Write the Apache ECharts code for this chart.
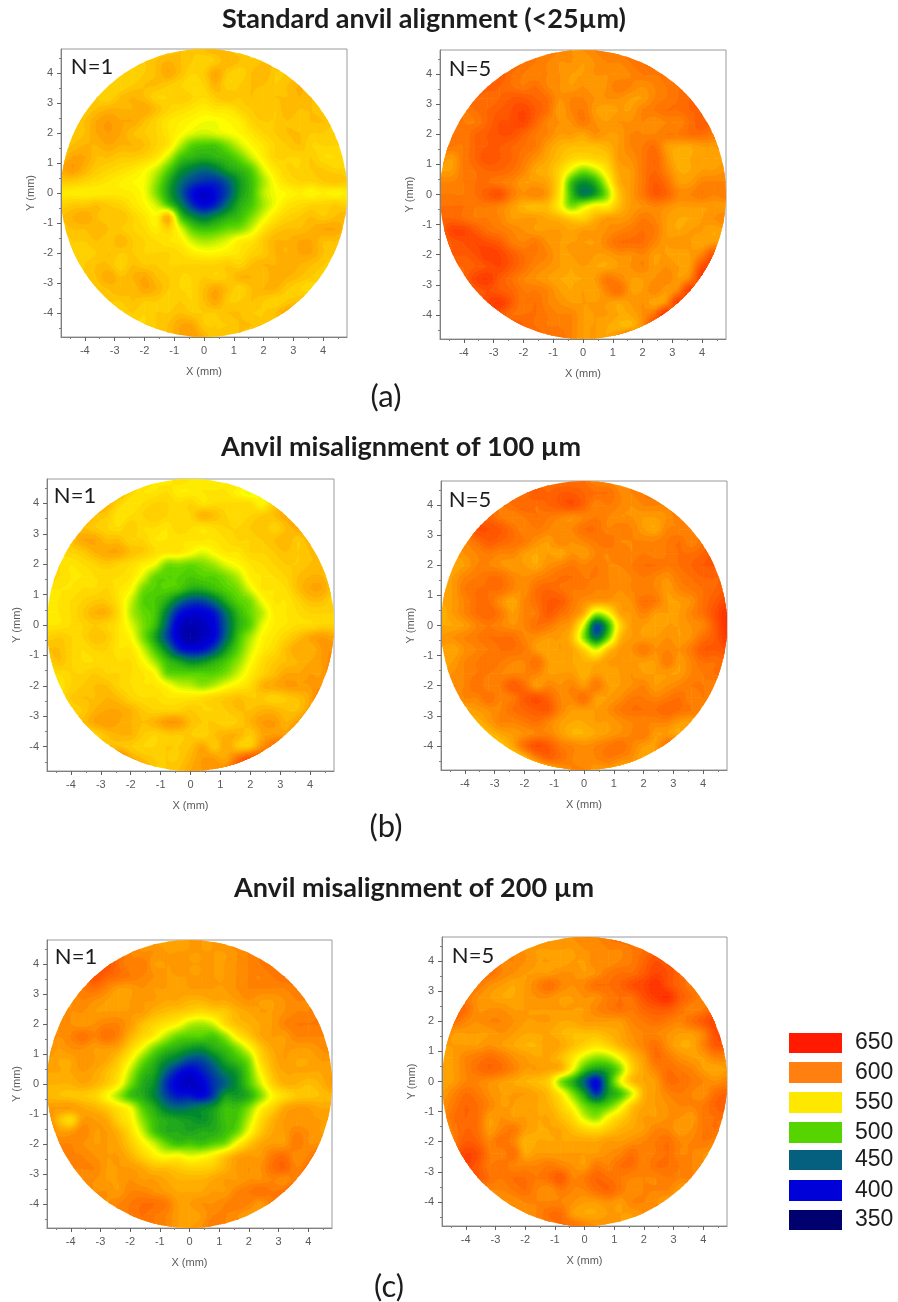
<!DOCTYPE html>
<html><head><meta charset="utf-8">
<style>html,body{margin:0;padding:0;background:#fff}#c{width:898px;height:1302px}</style>
<script src="https://cdn.jsdelivr.net/npm/echarts@6/dist/echarts.min.js"></script>
</head><body><div id="c"></div>
<script>
// Values: rows run from y=+4.8 to y=-4.8 mm in 0.4 mm steps, each row centred on x=0.
const panelA1=[
[575,570,570,575,570,575,580,575,570,570,570],
[570,575,570,575,580,575,570,565,570,580,575,570,575,575,570],
[575,570,565,570,575,585,575,565,570,585,570,565,575,580,570,570,570],
[575,570,565,570,575,575,570,565,560,565,580,565,570,575,575,570,575,580,575],
[575,570,565,575,580,575,565,565,570,565,560,570,575,570,575,570,575,575,580,575,570],
[570,570,575,580,580,580,585,575,565,560,555,550,555,555,565,570,575,570,580,575,575,570,565],
[570,575,585,590,585,585,575,565,555,550,545,540,540,545,550,565,570,570,575,570,575,575,570],
[565,570,575,585,590,585,575,570,565,555,545,535,530,535,540,545,555,565,570,575,575,570,570,565,565],
[570,575,580,580,585,580,580,575,565,555,525,500,495,495,510,530,545,555,565,570,575,565,565,565,565],
[575,585,585,575,575,570,570,565,555,530,495,485,480,485,490,505,530,550,565,565,565,570,560,560,565],
[585,590,580,570,565,560,555,545,530,500,470,455,445,455,475,485,500,535,555,565,565,570,570,565,565],
[570,570,565,560,555,550,545,540,515,480,450,430,420,420,440,470,490,520,545,560,565,565,570,575,570],
[552,552,550,550,552,552,550,540,510,475,440,405,390,405,430,470,490,525,540,545,550,545,550,545,550],
[565,570,570,575,570,565,555,545,530,495,460,420,400,415,450,480,495,520,540,555,560,565,565,570,565],
[575,580,585,575,570,575,565,555,545,580,495,465,450,465,480,490,510,535,555,565,570,575,570,575,580],
[570,575,575,580,575,570,565,560,550,565,535,500,490,495,505,510,530,555,570,575,575,580,585,585,575],
[565,570,570,575,570,580,570,565,560,555,550,530,520,525,535,550,555,570,580,580,585,585,575,575,570],
[560,565,565,570,575,570,570,565,565,565,560,550,545,545,550,555,565,570,580,580,585,585,575,570,565],
[565,570,575,575,565,575,570,570,565,565,565,565,565,570,565,575,580,580,585,580,575,570,565],
[565,570,575,585,575,580,585,575,570,565,565,570,565,570,580,580,575,585,580,575,570,565,560],
[565,570,575,580,575,585,580,570,565,565,575,585,575,565,575,580,580,570,565,560,570],
[565,570,570,575,570,570,565,570,565,575,585,570,570,575,570,565,570,575,585],
[565,565,570,565,570,570,575,570,570,570,575,575,570,570,575,585,590],
[570,565,565,570,575,585,585,570,570,570,575,575,570,570,570],
[570,570,575,585,590,580,570,575,575,570,570]];
const panelA2=[
[610,605,605,600,595,595,600,605,605,610,615],
[620,615,610,605,600,595,595,590,595,600,600,605,610,615,620],
[625,620,610,605,600,600,595,590,590,595,595,595,600,605,605,610,620],
[625,620,615,610,605,610,600,595,590,595,590,595,605,600,595,600,605,610,615],
[620,615,610,615,620,620,615,610,595,600,600,595,595,595,590,590,600,605,610,615,620],
[615,605,610,615,620,625,630,620,610,590,600,605,590,585,590,590,600,605,610,610,615,615,620],
[610,605,605,615,625,625,630,615,600,595,595,605,595,590,595,595,600,595,600,600,610,620,615],
[610,610,605,615,620,625,625,615,605,600,590,590,585,595,590,590,600,600,600,605,605,610,610,605,605],
[605,605,605,615,620,620,615,610,605,590,580,575,575,575,580,590,600,605,610,590,585,585,590,590,595],
[595,590,605,615,625,620,615,605,595,585,575,565,560,565,570,590,595,605,615,595,580,585,590,585,590],
[590,590,605,610,615,615,610,600,585,580,565,535,510,525,555,585,590,605,615,600,585,585,590,590,595],
[600,600,605,610,610,605,600,590,590,585,560,490,465,480,530,580,590,605,620,610,590,590,600,600,600],
[605,605,605,610,620,625,605,595,600,590,555,490,455,470,510,570,590,605,620,615,600,600,605,600,605],
[610,610,610,605,605,600,590,580,575,575,550,510,530,550,550,575,590,595,600,595,590,590,590,590,590],
[615,615,610,605,605,600,590,590,590,585,580,570,565,580,590,590,595,605,600,590,585,585,590,595,600],
[615,630,630,620,610,605,600,595,590,590,590,585,590,590,595,600,605,610,605,590,585,590,590,585,590],
[610,620,625,630,625,620,605,600,605,595,590,590,590,590,600,610,610,610,600,590,595,590,585,590,590],
[610,620,620,625,635,630,620,610,605,600,590,590,595,590,590,595,595,600,590,590,585,590,600,625,600],
[615,615,620,625,630,620,610,600,595,590,585,590,585,585,590,595,600,590,595,590,590,625,630],
[610,615,630,635,620,610,600,595,590,585,585,585,590,605,600,590,590,595,600,590,600,635,610],
[615,620,625,620,615,605,605,600,590,585,590,585,600,610,590,590,600,590,600,635,590],
[620,630,635,620,605,610,600,595,590,590,590,590,585,590,595,585,595,635,600],
[625,620,610,610,610,605,600,600,590,590,590,585,585,595,610,640,590],
[630,625,615,610,605,605,600,590,590,585,580,580,595,630,595],
[615,620,610,610,600,590,590,585,600,625,600]];
const panelB1=[
[575,565,555,550,560,555,550,550,555,565,575],
[575,580,565,555,555,560,550,550,555,555,555,545,535,555,575],
[585,580,565,555,560,565,565,560,565,555,560,560,560,560,545,570,585],
[590,575,570,555,560,565,570,565,560,565,580,575,565,560,565,570,575,585,590],
[585,575,570,565,560,570,560,560,555,565,560,555,560,565,565,570,575,565,575,585,590],
[575,575,585,585,575,575,565,565,555,555,555,555,555,555,560,565,565,570,575,580,570,580,585],
[560,565,570,580,585,585,575,570,560,555,555,545,535,545,555,555,565,565,570,575,570,575,580],
[565,560,555,560,565,570,565,560,550,540,510,510,505,510,520,535,545,555,560,565,570,570,575,575,570],
[565,560,555,555,560,560,560,555,535,505,500,500,495,500,500,510,525,550,555,560,565,575,580,580,570],
[555,555,555,560,560,565,555,545,510,500,500,495,480,480,490,500,510,535,555,555,560,575,585,585,570],
[550,555,560,565,570,570,555,530,500,495,480,450,430,430,450,480,500,510,540,555,555,565,575,575,565],
[555,555,560,570,580,580,560,525,505,495,455,410,395,395,410,450,485,505,525,550,555,560,565,565,565],
[555,555,560,565,570,565,555,535,510,490,440,390,380,385,400,440,480,500,535,550,555,560,560,565,565],
[565,570,565,565,575,570,555,545,510,475,430,390,375,385,400,445,490,520,545,555,565,575,585,590,585],
[575,575,565,560,565,565,555,555,530,495,460,415,400,405,430,470,500,530,550,560,575,585,580,590,595],
[565,575,565,560,560,565,560,560,545,520,490,475,460,465,480,495,515,540,560,570,575,580,585,590,600],
[560,560,565,565,570,565,565,560,555,545,505,500,500,500,500,510,530,550,565,575,585,585,590,590,605],
[555,555,565,570,575,575,565,560,555,555,545,530,525,515,525,540,550,560,580,585,590,590,590,595,610],
[560,570,575,575,580,575,565,560,560,555,555,555,560,565,570,575,570,570,565,570,575,585,610],
[560,565,570,580,585,585,580,570,565,565,565,570,565,565,570,575,575,580,580,575,575,590,600],
[565,575,585,590,585,580,575,580,590,590,575,570,570,565,570,580,590,590,580,590,610],
[560,565,575,580,580,570,565,570,570,570,565,575,580,580,570,585,590,590,610],
[570,575,575,570,565,565,570,570,575,585,570,585,570,570,595,610,620],
[590,605,585,575,570,570,570,580,590,590,585,610,625,620,600],
[600,590,570,570,575,585,590,590,600,625,620]];
const panelB2=[
[600,605,610,610,610,610,600,600,595,600,605],
[615,610,610,620,615,620,620,615,610,610,600,600,605,610,605],
[610,605,610,615,610,615,620,625,615,600,605,600,595,600,600,600,610],
[620,615,605,600,605,610,605,600,595,600,605,600,595,595,590,590,595,605,610],
[610,625,625,620,610,600,605,600,595,600,610,610,600,605,600,590,585,600,600,605,610],
[605,600,610,620,615,610,605,595,590,600,595,600,605,610,600,600,600,600,605,610,600,610,620],
[590,595,600,605,600,600,590,585,590,585,595,590,600,600,605,600,605,600,605,610,610,615,625],
[595,585,590,600,600,595,590,590,585,595,600,605,600,605,600,600,605,610,610,605,610,615,620,620,620],
[590,590,600,605,610,610,600,595,600,605,610,610,605,605,600,595,600,605,600,595,605,610,615,615,615],
[585,590,605,610,610,610,600,595,610,615,610,605,605,600,600,595,600,600,600,590,600,605,610,615,620],
[585,590,600,610,610,595,585,600,610,620,620,605,595,590,590,590,595,610,605,590,590,595,610,620,630],
[580,590,600,610,615,605,590,600,605,620,610,600,580,520,540,585,590,600,590,590,590,600,610,625,640],
[585,585,590,600,605,600,595,600,610,605,595,585,530,430,480,560,590,590,585,590,590,595,600,620,640],
[590,595,600,605,610,610,610,600,595,590,590,575,510,450,500,575,590,590,590,595,590,595,610,620,635],
[590,585,595,600,605,610,610,605,590,585,590,585,565,530,570,590,595,605,595,600,595,605,620,620,625],
[585,590,600,605,610,605,600,600,610,590,585,585,580,580,590,590,590,590,590,605,590,600,610,610,615],
[590,595,600,605,605,600,600,600,600,590,590,590,580,590,585,590,595,590,590,590,590,600,605,610,610],
[595,600,600,610,600,605,620,610,590,600,595,600,590,605,590,590,595,600,590,595,600,605,605,600,600],
[590,600,600,610,600,605,620,625,615,600,600,610,590,590,595,605,605,600,605,610,600,605,600],
[575,585,590,595,600,610,615,620,620,600,590,590,590,595,605,610,610,610,615,610,605,600,600],
[580,580,590,600,600,605,610,600,590,585,585,590,590,595,600,600,600,600,590,590,600],
[565,575,585,590,595,600,600,590,580,580,585,590,595,600,605,590,590,585,605],
[560,570,585,610,625,620,605,600,595,600,605,610,600,590,590,610,615],
[555,560,575,600,615,610,600,595,600,605,600,595,585,590,600],
[550,560,575,590,600,600,590,590,580,580,590]];
const panelC1=[
[590,595,590,585,585,590,590,590,595,600,600],
[620,610,600,595,595,590,590,590,590,590,590,595,600,605,610],
[625,625,610,600,605,590,590,590,590,590,590,590,595,600,605,610,610],
[610,625,615,610,605,600,595,590,590,590,590,590,590,595,600,600,605,610,610],
[600,605,610,600,590,590,595,590,590,585,590,590,590,590,595,600,600,600,600,605,610],
[595,595,600,595,590,585,590,590,590,585,585,580,580,585,585,590,595,590,590,595,600,600,605],
[600,595,595,590,590,590,590,590,580,575,570,565,560,565,570,580,585,590,590,595,600,600,605],
[600,600,595,590,595,600,600,590,575,565,555,545,525,520,530,560,575,580,585,590,600,605,605,605,600],
[600,595,600,610,600,610,600,580,565,550,525,505,500,500,495,515,550,570,585,590,590,600,600,600,600],
[595,590,595,595,590,590,585,565,540,510,490,480,470,465,480,490,510,540,570,585,590,590,590,595,600],
[590,585,585,595,590,585,570,545,510,485,465,450,430,430,450,475,490,510,560,580,590,585,585,590,590],
[585,585,585,590,585,575,560,525,490,475,440,410,395,410,430,455,470,500,545,575,585,585,585,585,590],
[580,580,580,585,580,570,550,510,480,465,420,395,385,395,420,440,465,495,530,565,580,580,575,580,590],
[578,575,572,570,565,545,520,490,480,460,430,410,410,400,425,470,470,480,510,545,560,570,572,575,578],
[590,590,590,585,580,570,555,540,500,480,455,445,450,460,470,490,490,510,545,565,585,590,590,585,585],
[600,575,560,590,590,585,565,550,515,490,480,475,470,465,475,490,495,525,560,580,590,590,590,590,585],
[600,590,590,600,590,590,580,560,530,495,480,480,475,480,480,490,505,540,570,585,590,600,595,590,590],
[605,600,600,595,590,590,585,570,550,530,505,490,495,490,500,510,545,570,585,590,590,605,595,595,590],
[600,600,600,595,590,590,580,565,550,540,545,535,540,550,570,585,590,590,605,610,595,600,615],
[600,600,600,600,590,590,590,585,575,575,570,565,565,570,580,590,595,595,610,615,600,610,625],
[595,595,595,590,590,595,590,590,585,580,580,580,585,590,590,595,595,600,595,605,620],
[600,595,595,590,600,600,595,590,585,585,585,590,590,600,605,610,605,610,625],
[600,595,600,605,610,610,605,590,590,595,595,600,605,600,590,605,615],
[600,600,605,610,605,600,590,585,590,600,600,595,590,600,610],
[600,605,605,600,590,590,595,605,600,600,600]];
const panelC2=[
[600,600,595,595,595,600,600,605,610,610,615],
[610,600,595,590,590,590,590,595,595,600,600,605,610,615,620],
[620,600,600,595,590,590,585,590,590,600,595,600,605,615,625,620,620],
[615,610,600,595,590,590,590,595,595,590,595,605,610,610,620,630,625,615,610],
[615,605,595,590,585,590,600,610,600,595,600,610,610,615,625,630,640,625,615,605,600],
[615,605,595,590,585,585,590,595,595,590,590,595,595,605,610,610,625,635,640,620,610,600,600],
[620,610,595,595,595,590,590,590,590,590,590,590,600,605,610,605,615,620,620,610,600,605,615],
[625,610,600,595,600,600,595,590,590,590,585,585,590,590,590,590,600,605,610,605,600,610,620,630,625],
[600,590,590,590,590,595,590,585,585,585,580,575,575,575,580,585,595,600,600,595,590,590,600,625,630],
[590,590,590,590,595,590,585,580,580,590,585,575,565,555,565,580,590,600,610,595,585,585,600,620,620],
[590,590,600,605,610,605,595,590,585,585,575,555,530,515,520,545,575,590,610,605,595,590,590,600,600],
[585,590,600,610,615,610,600,590,590,585,580,540,490,470,480,510,565,585,600,610,605,600,590,585,590],
[585,590,600,600,595,590,585,580,575,565,510,480,440,400,470,535,575,585,590,610,610,605,600,595,600],
[590,600,610,605,595,590,590,590,585,575,550,510,470,420,470,490,530,580,590,600,605,600,595,610,615],
[595,605,615,610,600,590,590,585,585,580,565,540,505,490,500,530,570,585,590,595,600,600,605,615,620],
[595,610,615,610,590,595,590,590,585,585,575,560,530,515,545,565,580,590,590,595,595,590,605,610,610],
[590,605,615,610,590,600,605,590,585,585,585,575,565,560,570,580,585,590,600,600,590,595,605,610,605],
[600,605,620,615,600,610,600,580,585,585,585,585,585,585,590,590,595,600,605,610,600,600,605,600,595],
[615,630,625,605,600,610,585,590,590,590,590,590,590,595,600,610,600,605,610,600,600,595,590],
[620,630,620,605,610,600,600,600,605,600,595,590,605,600,610,610,600,610,610,605,600,595,590],
[610,620,610,605,610,610,605,610,620,600,605,615,610,605,600,600,600,605,600,600,590],
[605,600,600,605,610,600,595,605,600,600,610,615,605,595,600,600,600,590,585],
[600,595,595,600,600,600,600,595,590,590,595,590,600,600,595,590,595],
[605,600,600,600,610,610,590,585,585,590,590,590,595,600,600],
[600,600,605,610,610,600,595,595,590,590,595]];

const legendValues=[650,600,550,500,450,400,350];
const legendColors=['#ff1a00','#ff8010','#ffe800','#55d400','#05607f','#0000d8','#00006e'];
const majorTicks=[-4,-3,-2,-1,0,1,2,3,4];
const minorTicks=[-4.5,-3.5,-2.5,-1.5,-0.5,0.5,1.5,2.5,3.5,4.5];
const panelLabels=['N=1','N=5','N=1','N=5','N=1','N=5'];
const titles=['Standard anvil alignment (<25µm)','Anvil misalignment of 100 µm','Anvil misalignment of 200 µm'];
const partLabels=['(a)','(b)','(c)'];

const GRID_STEP=0.4, EXTENT=4.8, LEVEL_STEP=5, SUB=3;
const panels=[panelA1,panelA2,panelB1,panelB2,panelC1,panelC2];
// frame: left, top, width, height (px)
const frames=[[61,49,286,288],[440,50,286,289],[47,479,287,292],[441,481,286,289],[47,940,285,288],[442,937,285,289]];
const colorStops=[[340,'#00005a'],[350,'#00006e'],[400,'#0000e0'],[445,'#006a78'],[462,'#008a30'],[500,'#52d400'],[525,'#b8ee00'],[542,'#ffff00'],[555,'#ffe600'],[570,'#ffcc00'],[585,'#ffa800'],[600,'#ff8500'],[650,'#ff1e00'],[690,'#a01000']];
function hex(c){return [1,3,5].map(i=>parseInt(c.substr(i,2),16));}
function colorAt(v){
  if(v<=colorStops[0][0])return colorStops[0][1];
  for(let i=1;i<colorStops.length;i++){
    if(v<=colorStops[i][0]){
      const a=colorStops[i-1],b=colorStops[i],t=(v-a[0])/(b[0]-a[0]),ca=hex(a[1]),cb=hex(b[1]);
      return 'rgb('+ca.map((x,k)=>Math.round(x+(cb[k]-x)*t)).join(',')+')';
    }
  }
  return colorStops[colorStops.length-1][1];
}
function fullRows(rows){
  return rows.map(r=>{const off=Math.floor((25-r.length)/2),out=[];
    for(let i=0;i<25;i++){const k=Math.min(r.length-1,Math.max(0,i-off));out.push(r[k]);}
    return out;});
}
const fullGrids=panels.map(fullRows);
function cells(f){
  const out=[];
  for(let j=0;j<24;j++)for(let i=0;i<24;i++){
    const xl=-EXTENT+i*GRID_STEP, yt=EXTENT-j*GRID_STEP;
    out.push([+xl.toFixed(1),+(yt-GRID_STEP).toFixed(1),f[j+1][i],f[j+1][i+1],f[j][i+1],f[j][i]]);
  }
  return out;
}
// smooth contour drawing between the read nodes (same kind of smoothing as the contour plot)
function cr(p0,p1,p2,p3,t){return p1+0.5*t*(p2-p0+t*(2*p0-5*p1+4*p2-p3+t*(3*(p1-p2)+p3-p0)));}
function fieldAt(f,x,y){
  const u=(x+EXTENT)/GRID_STEP,w=(EXTENT-y)/GRID_STEP;
  const i=Math.min(23,Math.floor(u+1e-9)),j=Math.min(23,Math.floor(w+1e-9)),tu=u-i,tw=w-j;
  const row=n=>{const r=f[Math.max(0,Math.min(24,n))],g=m=>r[Math.max(0,Math.min(24,m))];return cr(g(i-1),g(i),g(i+1),g(i+2),tu);};
  return cr(row(j-1),row(j),row(j+1),row(j+2),tw);
}
function renderCell(params,api){
  const x=api.value(0),y=api.value(1),d=GRID_STEP,f=fullGrids[params.seriesIndex];
  const nearX=Math.min(Math.abs(x),Math.abs(x+d)),nearY=Math.min(Math.abs(y),Math.abs(y+d));
  if(Math.hypot(nearX,nearY)>=EXTENT)return null;
  const s=d/SUB,nodes=[];
  let lo=Infinity;
  for(let b=0;b<=SUB;b++){const r=[];for(let a=0;a<=SUB;a++){const v=fieldAt(f,x+a*s,y+b*s);r.push(v);if(v<lo)lo=v;}nodes.push(r);}
  lo=Math.floor(lo/LEVEL_STEP)*LEVEL_STEP;
  const children=[];
  const addPoly=(pts,t)=>{const col=colorAt(t+LEVEL_STEP/2);children.push({type:'polygon',z2:Math.round((t-300)/LEVEL_STEP),shape:{points:pts},style:{fill:col,stroke:col,lineWidth:0.6}});};
  addPoly([[x,y],[x+d,y],[x+d,y+d],[x,y+d]].map(p=>api.coord(p)),lo);
  for(let b=0;b<SUB;b++)for(let a=0;a<SUB;a++){
    const cx=[x+a*s,x+(a+1)*s,x+(a+1)*s,x+a*s],cy=[y+b*s,y+b*s,y+(b+1)*s,y+(b+1)*s];
    const v=[nodes[b][a],nodes[b][a+1],nodes[b+1][a+1],nodes[b+1][a]];
    const hi=Math.max(...v);
    for(let t=lo+LEVEL_STEP;t<=hi;t+=LEVEL_STEP){
      const pts=[];
      for(let k=0;k<4;k++){
        const m=(k+1)%4,p=v[k]>=t,q=v[m]>=t;
        if(p)pts.push(api.coord([cx[k],cy[k]]));
        if(p!==q){const g=(t-v[k])/(v[m]-v[k]);pts.push(api.coord([cx[k]+(cx[m]-cx[k])*g,cy[k]+(cy[m]-cy[k])*g]));}
      }
      if(pts.length>=3)addPoly(pts,t);
    }
  }
  const g={type:'group',children};
  const far=Math.hypot(Math.max(Math.abs(x),Math.abs(x+d)),Math.max(Math.abs(y),Math.abs(y+d)));
  if(far>=EXTENT){
    const c=api.coord([0,0]),sz=api.size([EXTENT,EXTENT]);
    g.clipPath={type:'ellipse',shape:{cx:c[0],cy:c[1],rx:sz[0],ry:sz[1]}};
  }
  return g;
}
const axisFont={color:'#5a5a5a',fontSize:11,fontFamily:'Liberation Sans'};
const grid=[],xAxis=[],yAxis=[],series=[];
frames.forEach((fr,i)=>{
  grid.push({left:fr[0],top:fr[1],width:fr[2],height:fr[3],show:true,backgroundColor:'#fff',borderColor:'#9a9a9a',borderWidth:1});
  const common={type:'value',gridIndex:i,min:-EXTENT,max:EXTENT,splitLine:{show:false},z:20};
  xAxis.push({...common,position:'bottom',name:'X (mm)',nameLocation:'middle',nameGap:29,nameTextStyle:axisFont,
    axisLine:{onZero:false,lineStyle:{color:'#808080'}},axisTick:{show:true,length:4,lineStyle:{color:'#606060'},customValues:majorTicks},
    axisLabel:{...axisFont,margin:8,customValues:majorTicks,formatter:v=>String(v)}});
  xAxis.push({...common,axisLine:{show:false,onZero:false},axisLabel:{show:false},position:'bottom',
    axisTick:{show:true,length:2,lineStyle:{color:'#808080'},customValues:minorTicks}});
  yAxis.push({...common,position:'left',name:'Y (mm)',nameLocation:'middle',nameGap:25,nameTextStyle:axisFont,
    axisLine:{onZero:false,lineStyle:{color:'#808080'}},axisTick:{show:true,length:4,lineStyle:{color:'#606060'},customValues:majorTicks},
    axisLabel:{...axisFont,margin:8,customValues:majorTicks,formatter:v=>String(v)}});
  yAxis.push({...common,axisLine:{show:false,onZero:false},axisLabel:{show:false},position:'left',
    axisTick:{show:true,length:2,lineStyle:{color:'#808080'},customValues:minorTicks}});
  series.push({type:'custom',coordinateSystem:'cartesian2d',xAxisIndex:2*i,yAxisIndex:2*i,silent:true,clip:false,
    encode:{x:0,y:1},data:cells(fullGrids[i]),renderItem:renderCell,animation:false,progressive:0});
});
const labelFont='Lato';
const graphic=[];
function text(t,x,y,size,weight,align,fam){
  graphic.push({type:'text',x,y,silent:true,z:50,style:{text:t,fill:'#1c1c1c',font:(weight||'normal')+' '+size+'px "'+(fam||labelFont)+'"',textAlign:align||'center',textVerticalAlign:'middle'}});
}
const titlePos=[[424,19],[401,447],[414,888]];
titles.forEach((t,i)=>text(t,titlePos[i][0],titlePos[i][1],27,'bold'));
const partPos=[[386,397],[386,827],[389,1287]];
partLabels.forEach((t,i)=>text(t,partPos[i][0],partPos[i][1],31));
const nPos=[[92,67],[470,69],[75,496],[470,500],[76,957],[473,956]];
panelLabels.forEach((t,i)=>text(t,nPos[i][0],nPos[i][1],22));
const swatchTop=[1033,1062,1092,1122,1150,1180,1210],swatchH=[20,21,21,21,20,21,20];
legendValues.forEach((v,i)=>{
  graphic.push({type:'rect',silent:true,z:50,shape:{x:789,y:swatchTop[i],width:53,height:swatchH[i]},style:{fill:legendColors[i]}});
  text(String(v),855,swatchTop[i]+swatchH[i]/2,23,'normal','left','Liberation Sans');
});
const chart=echarts.init(document.getElementById('c'),null,{renderer:'canvas',width:898,height:1302});
chart.setOption({animation:false,backgroundColor:'#fff',grid,xAxis,yAxis,series,graphic});
</script></body></html>
